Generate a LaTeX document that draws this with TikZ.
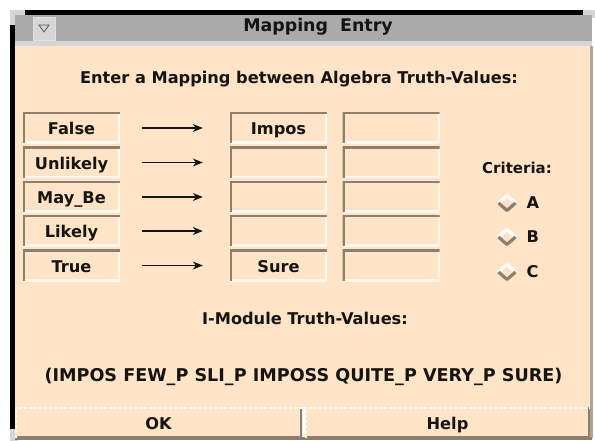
\documentclass[tikz,border=0pt]{standalone}
\usepackage{fontspec}
\setmainfont{DejaVu Sans}
\usepackage{tikz}
\usetikzlibrary{positioning, arrows.meta}
\definecolor{panel}{RGB}{255, 228, 200}
\definecolor{darkedge}{RGB}{142, 126, 110}
\definecolor{lightedge}{RGB}{255, 248, 238}
\definecolor{titlegray}{RGB}{170, 170, 170}
\definecolor{titlelight}{RGB}{214, 214, 214}
\definecolor{textdark}{RGB}{22, 20, 18}

\begin{document}
\begin{tikzpicture}[x=1pt, y=-1pt, >=Stealth,
    font=\fontsize{16.2}{19}\selectfont\bfseries, text=textdark,
    field/.style={minimum width=97pt, minimum height=31pt, inner sep=0pt, fill=panel,
      text height=13.5pt, text depth=0pt,
      path picture={
        \draw[lightedge, line width=4pt] (path picture bounding box.south west) -| (path picture bounding box.north east);
        \draw[darkedge, line width=4pt] (path picture bounding box.south west) |- (path picture bounding box.north east);}},
    button/.style={minimum height=31pt, inner sep=0pt, fill=panel,
      text height=13pt, text depth=0pt,
      path picture={
        \draw[darkedge, line width=4pt] (path picture bounding box.south west) -| (path picture bounding box.north east);
        \draw[lightedge, line width=3pt, dotted] (path picture bounding box.south west) |- (path picture bounding box.north east);}},
    radio/.style={minimum width=20pt, minimum height=18pt, inner sep=0pt,
      path picture={
        \draw[white, line width=3.2pt, line join=round]
          ([xshift=1.5pt]path picture bounding box.west) -- ([yshift=-1.5pt]path picture bounding box.north)
          -- ([xshift=-1.5pt]path picture bounding box.east);
        \draw[darkedge, line width=3.2pt, line join=round]
          ([xshift=1.5pt]path picture bounding box.west) -- ([yshift=1.5pt]path picture bounding box.south)
          -- ([xshift=-1.5pt]path picture bounding box.east);}},
    maps/.style={line width=1.3pt, draw=textdark, shorten <=22pt, shorten >=27pt,
      -{Stealth[length=10pt, width=8pt]}}]
  \useasboundingbox (0,0) rectangle (595,441);
  \fill[white] (0,0) rectangle (595,441);

  % window frame and title bar
  \fill[titlelight] (10,10) rectangle (25,25);
  \fill[titlelight] (583,10) rectangle (595,18);
  \fill[titlelight] (10,429) rectangle (18,441);
  \fill[black] (25,10) rectangle (583,15);
  \fill[black] (10,25) rectangle (15,429);
  \fill[titlegray] (15,15) rectangle (592,41);
  \fill[titlelight] (15,41) rectangle (592,46);
  \fill[panel] (15,46) rectangle (590,407);
  \fill[darkedge!70] (590,46) rectangle (593,438);
  \fill[darkedge] (15,437) rectangle (592,440);

  % window menu button
  \node[draw=lightedge!80!gray, fill=titlelight, minimum width=22pt, minimum height=23pt,
        inner sep=0pt] (menu) at (44,29) {};
  \draw[gray!70!black, line width=0.8pt] (39,25) -- (49,25) -- (44,32) -- cycle;
  \node[font=\fontsize{17.4}{20}\selectfont\bfseries] (title) at (318,27) {Mapping\ \ Entry};

  \node (heading) at (299,79) {Enter a Mapping between Algebra Truth-Values:};

  % algebra values, module values and extra column
  \node[field] (a1) at (71.5,128)   {False};
  \node[field] (a2) at (71.5,162.5) {Unlikely};
  \node[field] (a3) at (71.5,197)   {May\_Be};
  \node[field] (a4) at (71.5,231)   {Likely};
  \node[field] (a5) at (71.5,265.5) {True};
  \node[field] (m1) at (278.5,128)   {Impos};
  \node[field] (m2) at (278.5,162.5) {};
  \node[field] (m3) at (278.5,197)   {};
  \node[field] (m4) at (278.5,231)   {};
  \node[field] (m5) at (278.5,265.5) {Sure};
  \node[field] (x1) at (391,128)   {};
  \node[field] (x2) at (391,162.5) {};
  \node[field] (x3) at (391,197)   {};
  \node[field] (x4) at (391,231)   {};
  \node[field] (x5) at (391,265.5) {};

  \draw[maps] (a1) -- (m1);
  \draw[maps] (a2) -- (m2);
  \draw[maps] (a3) -- (m3);
  \draw[maps] (a4) -- (m4);
  \draw[maps] (a5) -- (m5);

  % criteria radio buttons
  \node[font=\fontsize{15}{18}\selectfont\bfseries] (crit) at (517,168) {Criteria:};
  \node[radio] (ra) at (507,203) {};
  \node[radio] (rb) at (507,237) {};
  \node[radio] (rc) at (507,272) {};
  \node[right=6pt of ra] (la) {A};
  \node[right=6pt of rb] (lb) {B};
  \node[right=6pt of rc] (lc) {C};

  \node (module) at (305,318) {I-Module Truth-Values:};
  \node[font=\fontsize{17.6}{20}\selectfont\bfseries] (values) at (303.5,377)
        {(IMPOS FEW\_P SLI\_P IMPOSS QUITE\_P VERY\_P SURE)};

  % dialog buttons
  \node[button, minimum width=287pt] (ok)   at (158.5,422.5) {OK};
  \node[button, minimum width=285pt] (help) at (447.5,422.5) {Help};
\end{tikzpicture}
\end{document}
